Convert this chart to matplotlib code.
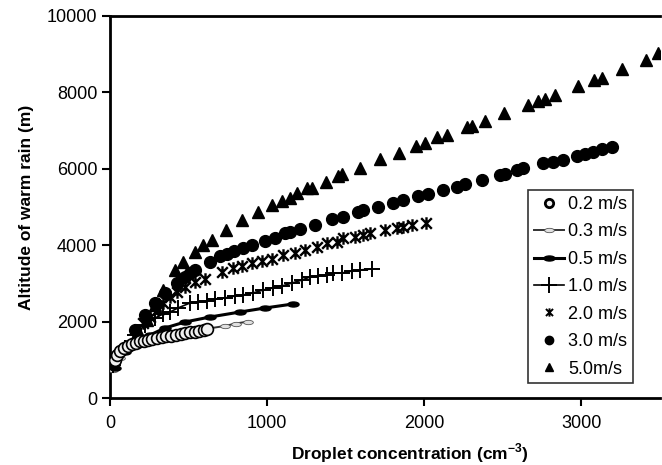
import matplotlib
matplotlib.use('Agg')
import matplotlib.pyplot as plt
from matplotlib.path import Path
from matplotlib.transforms import Affine2D

plt.rcParams['font.family'] = ['Liberation Sans', 'DejaVu Sans']
plt.rcParams['mathtext.fontset'] = 'custom'
plt.rcParams['mathtext.rm'] = 'Liberation Sans'
plt.rcParams['mathtext.bf'] = 'Liberation Sans:bold'

# 0.2 m/s
x02 = [30, 45, 65, 90, 115, 140, 165, 190, 215, 240, 270, 300, 330, 360, 390,
       420, 450, 480, 510, 540, 570, 600, 620]
y02 = [1000, 1120, 1230, 1310, 1370, 1410, 1450, 1480, 1505, 1530, 1555, 1575,
       1595, 1615, 1635, 1655, 1675, 1695, 1715, 1740, 1765, 1790, 1810]
# 0.3 m/s
x03 = [20, 64, 127, 223, 350, 478, 605, 732, 800, 879]
y03 = [733, 1047, 1309, 1518, 1649, 1728, 1806, 1885, 1950, 2000]
# 0.5 m/s
x05 = [32, 96, 159, 255, 350, 478, 637, 828, 987, 1166]
y05 = [785, 1204, 1440, 1649, 1832, 1990, 2120, 2251, 2356, 2461]
# 1.0 m/s
x10 = [19, 96, 159, 223, 287, 338, 382, 433, 510, 561, 618, 669, 732, 796, 847,
       911, 975, 1038, 1096, 1159, 1223, 1274, 1325, 1382, 1420, 1478, 1541,
       1592, 1669]
y10 = [864, 1309, 1649, 1911, 2094, 2199, 2251, 2356, 2487, 2513, 2539, 2592,
       2618, 2670, 2696, 2749, 2827, 2880, 2932, 3010, 3089, 3168, 3194, 3220,
       3272, 3272, 3325, 3351, 3377]
# 2.0 m/s
x20 = [210, 255, 306, 338, 382, 427, 478, 541, 605, 713, 783, 841, 904, 968,
       1032, 1102, 1178, 1242, 1318, 1382, 1446, 1484, 1561, 1611, 1656, 1752,
       1828, 1866, 1924, 2013]
y20 = [1963, 2120, 2304, 2487, 2644, 2775, 2906, 3037, 3115, 3298, 3403, 3455,
       3534, 3586, 3639, 3743, 3796, 3874, 3953, 4058, 4084, 4188, 4215, 4267,
       4319, 4398, 4450, 4476, 4529, 4581]
# 3.0 m/s
x30 = [159, 223, 287, 350, 427, 478, 510, 541, 637, 701, 745, 790, 847, 904,
       987, 1051, 1115, 1146, 1210, 1306, 1414, 1484, 1580, 1611, 1707, 1803,
       1866, 1962, 2025, 2121, 2210, 2261, 2369, 2484, 2516, 2592, 2631, 2758,
       2822, 2885, 2975, 3025, 3076, 3134, 3197]
y30 = [1780, 2173, 2487, 2749, 3010, 3168, 3272, 3351, 3560, 3717, 3770, 3848,
       3927, 4005, 4110, 4188, 4319, 4346, 4424, 4529, 4686, 4738, 4869, 4921,
       5000, 5105, 5183, 5288, 5340, 5445, 5524, 5602, 5707, 5838, 5864, 5969,
       6021, 6152, 6178, 6230, 6335, 6387, 6440, 6518, 6571]
# 5.0 m/s
x50 = [180, 236, 287, 338, 414, 465, 541, 592, 650, 739, 841, 943, 1032, 1096,
       1146, 1191, 1255, 1287, 1376, 1452, 1478, 1592, 1720, 1841, 1949, 2006,
       2083, 2146, 2274, 2306, 2389, 2510, 2662, 2726, 2771, 2834, 2981, 3083,
       3134, 3261, 3414, 3490]
y50 = [1750, 2042, 2435, 2827, 3351, 3560, 3822, 4005, 4136, 4398, 4660, 4869,
       5052, 5157, 5236, 5366, 5497, 5497, 5654, 5812, 5864, 6021, 6257, 6414,
       6597, 6675, 6832, 6885, 7094, 7120, 7251, 7461, 7670, 7775, 7827, 7932,
       8168, 8325, 8377, 8613, 8848, 9020]

# horizontal oval marker
oval = Path.unit_circle().transformed(Affine2D().scale(1.0, 0.45))
# X with a vertical stroke (Excel star)
star = Path([(-0.85, -0.85), (0.85, 0.85), (-0.85, 0.85), (0.85, -0.85),
             (0, -1.0), (0, 1.0)],
            [Path.MOVETO, Path.LINETO] * 3)

fig = plt.figure(figsize=(6.62, 4.65), dpi=100)
ax = fig.add_axes([0.166, 0.144, 0.831, 0.822])

ax.plot(x03, y03, color='#333333', lw=1.4, marker=oval, ms=7,
        mfc='#e0e0e0', mec='#555555', mew=0.6, label='0.3 m/s', zorder=3)
ax.plot(x05, y05, color='black', lw=2.2, marker=oval, ms=8,
        mfc='black', mec='black', label='0.5 m/s', zorder=3)
ax.plot(x10, y10, color='black', lw=1.2, marker='+', ms=11, mew=1.4,
        label='1.0 m/s', zorder=3)
ax.plot(x20, y20, ls='none', marker=star, ms=9, mew=1.7, color='black',
        mfc='none', label='2.0 m/s', zorder=3)
ax.plot(x30, y30, ls='none', marker='o', ms=8.5, color='black',
        label='3.0 m/s', zorder=3)
ax.plot(x50, y50, ls='none', marker='^', ms=8.5, color='black',
        label='5.0m/s', zorder=3)
ax.plot(x02, y02, ls='none', marker='o', ms=8.5, mfc='#f0f0f0', mec='black',
        mew=1.2, label='0.2 m/s', zorder=4)

ax.set_xlim(0, 3500)
ax.set_ylim(0, 10000)
ax.set_xticks([0, 1000, 2000, 3000])
ax.set_yticks([0, 2000, 4000, 6000, 8000, 10000])
ax.tick_params(direction='out', length=6, width=1.5, labelsize=13,
               colors='black', pad=6)
ax.tick_params(axis='y', pad=3)
for s in ['left', 'bottom', 'top']:
    ax.spines[s].set_linewidth(2)
ax.spines['right'].set_visible(False)

ax.set_xlabel(r'Droplet concentration (cm$^{\mathbf{-3}}$)', fontsize=12.5,
              fontweight='bold', labelpad=7)
ax.xaxis.label.set_x(0.545)
ax.set_ylabel('Altitude of warm rain (m)', fontsize=12.5, fontweight='bold',
              labelpad=9)

h, l = ax.get_legend_handles_labels()
order = [6, 0, 1, 2, 3, 4, 5]
leg = ax.legend([h[i] for i in order], [l[i] for i in order],
                loc='lower right', bbox_to_anchor=(0.95, 0.039), fontsize=13,
                frameon=True, fancybox=False, edgecolor='black',
                handlelength=1.7, labelspacing=0.58, borderpad=0.3,
                handletextpad=0.2, borderaxespad=0)
leg.get_frame().set_linewidth(1.2)
for lh in leg.legend_handles[:1]:
    lh.set_markersize(6)
    lh.set_markeredgewidth(2)
leg.legend_handles[4].set_markersize(6)
leg.legend_handles[4].set_markeredgewidth(1.4)
for lh in leg.legend_handles[5:]:
    lh.set_markersize(6)

fig.savefig('out.png', dpi=100)
